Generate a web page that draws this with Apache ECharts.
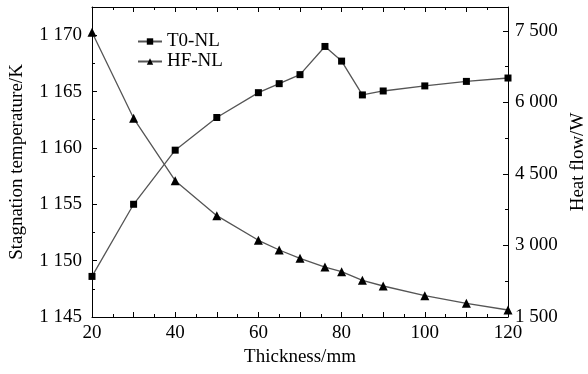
<!DOCTYPE html>
<html>
<head>
<meta charset="utf-8">
<script src="https://cdn.jsdelivr.net/npm/echarts@6/dist/echarts.min.js"></script>
<style>
  html, body { margin: 0; padding: 0; background: #fff; }
  #chart { width: 588px; height: 374px; }
</style>
</head>
<body>
<div id="chart"></div>
<script>
// Insulation thickness (mm)
const thickness = [20, 30, 40, 50, 60, 65, 70, 76, 80, 85, 90, 100, 110, 120];
// Stagnation temperature (K)
const t0NL = [1148.6, 1155.0, 1159.8, 1162.7, 1164.9, 1165.7, 1166.5, 1169.0, 1167.7, 1164.7, 1165.05, 1165.5, 1165.9, 1166.2];
// Heat flow (W)
const hfNL = [7470, 5666, 4358, 3625, 3108, 2905, 2730, 2548, 2450, 2269, 2150, 1947, 1787, 1647];

const FONT = "'Liberation Serif', 'Times New Roman', serif";
const FS = 19;

// thousands separated by a space: 1170 -> "1 170"
function spaced(v) {
  const s = String(Math.round(v));
  return s.replace(/\B(?=(\d{3})+(?!\d))/g, ' ');
}

const chart = echarts.init(document.getElementById('chart'), null, { renderer: 'canvas' });

const axisLineStyle = { show: true, lineStyle: { color: '#000', width: 1 } };
const majorTick = { inside: true, length: 5, lineStyle: { color: '#000' } };
const minorTick = { show: true, splitNumber: 2, length: 3, lineStyle: { color: '#000' } };
const nameStyle = { fontFamily: FONT, fontSize: FS, color: '#000' };

chart.setOption({
  backgroundColor: '#fff',
  animation: false,
  textStyle: { fontFamily: FONT },
  grid: { left: 92, right: 80, top: 7, bottom: 57, containLabel: false, outerBoundsMode: 'none' },
  legend: {
    left: 137, top: 32, orient: 'vertical', itemGap: 1, padding: 0,
    itemWidth: 24, itemHeight: 8,
    textStyle: { fontFamily: FONT, fontSize: FS, color: '#000' },
    data: ['T0-NL', 'HF-NL']
  },
  xAxis: [{
    type: 'value', min: 20, max: 120, interval: 10,
    name: 'Thickness/mm', nameLocation: 'middle', nameGap: 31,
    nameTextStyle: nameStyle,
    axisLine: axisLineStyle,
    axisTick: majorTick,
    minorTick: minorTick,
    splitLine: { show: false },
    axisLabel: {
      margin: 7, fontFamily: FONT, fontSize: FS, color: '#000',
      formatter: v => ((v - 20) % 20 === 0 ? String(v) : '')
    }
  }, {
    type: 'value', position: 'top', min: 20, max: 120, interval: 10,
    axisLine: axisLineStyle,
    axisTick: majorTick,
    minorTick: minorTick,
    splitLine: { show: false },
    axisLabel: { show: false }
  }],
  yAxis: [{
    type: 'value', min: 1145, max: 1172.5, interval: 5,
    name: 'Stagnation temperature/K', nameLocation: 'middle', nameRotate: 90, nameGap: 65,
    nameTextStyle: nameStyle,
    axisLine: axisLineStyle,
    axisTick: majorTick,
    minorTick: minorTick,
    splitLine: { show: false },
    axisLabel: {
      margin: 10, fontFamily: FONT, fontSize: FS, color: '#000',
      formatter: v => (Math.abs(v % 5) < 1e-6 ? spaced(v) : '')
    }
  }, {
    type: 'value', position: 'right', min: 1500, max: 8000, interval: 1500,
    name: 'Heat flow/W', nameLocation: 'middle', nameRotate: 90, nameGap: 60,
    nameTextStyle: nameStyle,
    axisLine: axisLineStyle,
    axisTick: majorTick,
    minorTick: minorTick,
    splitLine: { show: false },
    axisLabel: {
      margin: 7, fontFamily: FONT, fontSize: FS, color: '#000',
      formatter: v => (v % 1500 === 0 ? spaced(v) : '')
    }
  }],
  series: [{
    name: 'T0-NL', type: 'line', xAxisIndex: 0, yAxisIndex: 0,
    data: thickness.map((x, i) => [x, t0NL[i]]),
    symbol: 'rect', symbolSize: 7,
    itemStyle: { color: '#000' },
    lineStyle: { color: '#555', width: 1.3 }
  }, {
    name: 'HF-NL', type: 'line', xAxisIndex: 0, yAxisIndex: 1,
    data: thickness.map((x, i) => [x, hfNL[i]]),
    symbol: 'triangle', symbolSize: 9,
    itemStyle: { color: '#000' },
    lineStyle: { color: '#555', width: 1.3 }
  }]
});
</script>
</body>
</html>
